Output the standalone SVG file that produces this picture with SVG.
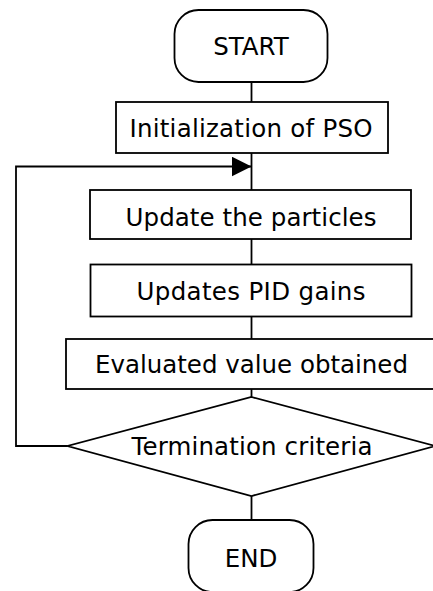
<svg xmlns="http://www.w3.org/2000/svg" width="433" height="591" viewBox="0 0 433 591">
  <style>
    .shape { fill: #ffffff; stroke: #000000; stroke-width: 1.8; }
    .wire { fill: none; stroke: #000000; stroke-width: 1.8; }
    .label { font-family: "DejaVu Sans", Verdana, sans-serif; font-size: 24.5px; fill: #000000; text-anchor: middle; }
  </style>
  <defs>
    <marker id="arrow" markerWidth="20" markerHeight="20" refX="20" refY="10" orient="auto" markerUnits="userSpaceOnUse">
      <path d="M0,0 L20,10 L0,20 Z" fill="#000000"/>
    </marker>
  </defs>
  <rect width="433" height="591" fill="#ffffff"/>

  <!-- connectors -->
  <g id="connectors">
    <line class="wire" x1="251.5" y1="82" x2="251.5" y2="102"/>
    <line class="wire" x1="251.5" y1="153" x2="251.5" y2="190"/>
    <line class="wire" x1="251.5" y1="239" x2="251.5" y2="264"/>
    <line class="wire" x1="251.5" y1="317" x2="251.5" y2="339"/>
    <line class="wire" x1="251.5" y1="389" x2="251.5" y2="397"/>
    <line class="wire" x1="251.5" y1="496" x2="251.5" y2="520"/>
    <polyline class="wire" points="67.5,446 16,446 16,166.5 251.5,166.5" marker-end="url(#arrow)"/>
  </g>

  <g id="start">
    <rect class="shape" x="174.5" y="10" width="153" height="72" rx="24" ry="24"/>
    <text class="label" x="251" y="55">START</text>
  </g>

  <g id="init">
    <rect class="shape" x="116" y="102" width="272" height="51"/>
    <text class="label" x="251" y="137" textLength="243">Initialization of PSO</text>
  </g>

  <g id="update-particles">
    <rect class="shape" x="90" y="190" width="321" height="49"/>
    <text class="label" x="251" y="225.5" textLength="251">Update the particles</text>
  </g>

  <g id="update-gains">
    <rect class="shape" x="90.5" y="264.5" width="321" height="52"/>
    <text class="label" x="251" y="300" textLength="229">Updates PID gains</text>
  </g>

  <g id="evaluate">
    <rect class="shape" x="66" y="339" width="372" height="50"/>
    <text class="label" x="251.5" y="373" textLength="313">Evaluated value obtained</text>
  </g>

  <g id="termination">
    <polygon class="shape" points="251.5,397 435.5,446 251.5,496 67.5,446"/>
    <text class="label" x="252" y="455" textLength="241">Termination criteria</text>
  </g>

  <g id="end">
    <rect class="shape" x="188.5" y="520" width="125" height="72" rx="24" ry="24"/>
    <text class="label" x="251" y="566.5">END</text>
  </g>
</svg>
